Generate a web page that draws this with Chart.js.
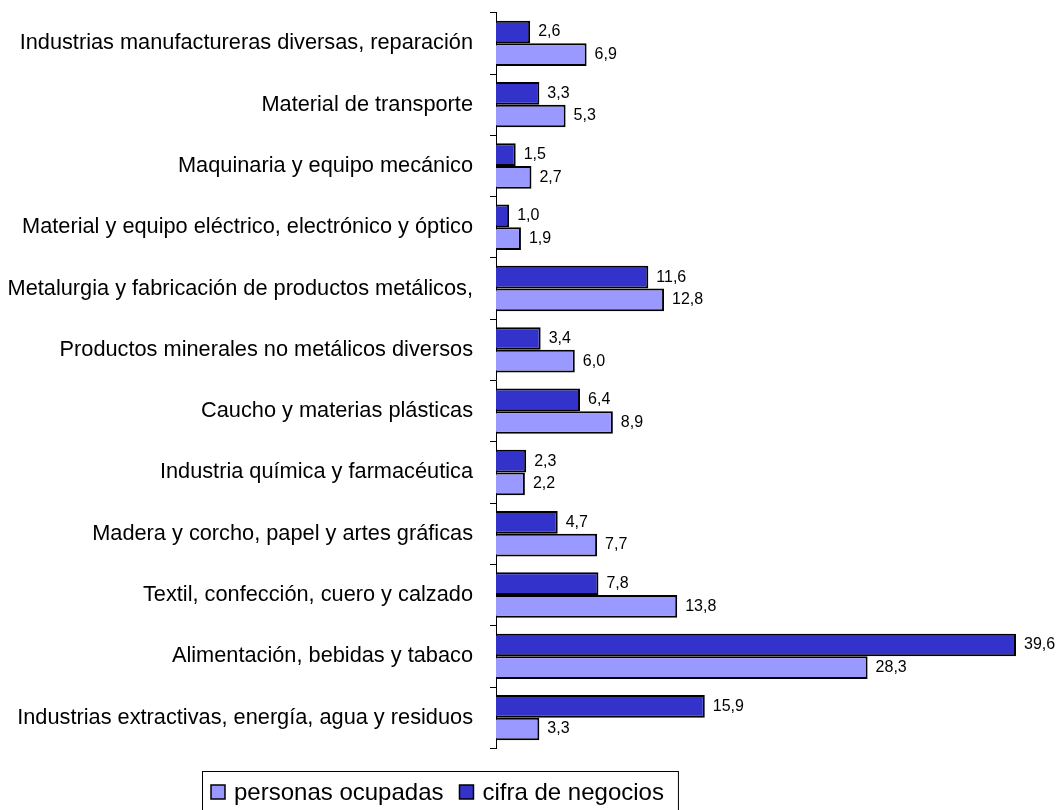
<!DOCTYPE html>
<html lang="es">
<head>
<meta charset="utf-8">
<title>Cifra de negocios y personas ocupadas por sector</title>
<script src="https://cdn.jsdelivr.net/npm/chart.js@4/dist/chart.umd.min.js"></script>
<style>
  html, body { margin: 0; padding: 0; background: #ffffff; }
  #wrap { position: relative; width: 1061px; height: 810px; }
</style>
</head>
<body>
<div id="wrap"><canvas id="sectorChart"></canvas></div>
<script>
const sectorLabels = [
  "Industrias manufactureras diversas, reparación",
  "Material de transporte",
  "Maquinaria y equipo mecánico",
  "Material y equipo eléctrico, electrónico y óptico",
  "Metalurgia y fabricación de productos metálicos,",
  "Productos minerales no metálicos diversos",
  "Caucho y materias plásticas",
  "Industria química y farmacéutica",
  "Madera y corcho, papel y artes gráficas",
  "Textil, confección, cuero y calzado",
  "Alimentación, bebidas y tabaco",
  "Industrias extractivas, energía, agua y residuos"
];

const cifraNegocios = [2.6, 3.3, 1.5, 1.0, 11.6, 3.4, 6.4, 2.3, 4.7, 7.8, 39.6, 15.9];
const personasOcupadas = [6.9, 5.3, 2.7, 1.9, 12.8, 6.0, 8.9, 2.2, 7.7, 13.8, 28.3, 3.3];

const seriesNames = ["cifra de negocios", "personas ocupadas"];
const legendOrder = ["personas ocupadas", "cifra de negocios"];

(function () {
  const canvas = document.getElementById("sectorChart");
  const fontFamily = "'Liberation Sans', Arial, Helvetica, sans-serif";
  const darkBlue = "#3333cc";
  const lightBlue = "#9999ff";

  function formatValue(value) {
    return value.toFixed(1).replace(".", ",");
  }

  // numbers at the end of each bar
  const valueLabels = {
    id: "valueLabels",
    afterDatasetsDraw: function (chart) {
      const ctx = chart.ctx;
      ctx.save();
      ctx.font = "16px " + fontFamily;
      ctx.fillStyle = "#000000";
      ctx.textAlign = "left";
      ctx.textBaseline = "middle";
      chart.data.datasets.forEach(function (dataset, di) {
        const meta = chart.getDatasetMeta(di);
        meta.data.forEach(function (bar, i) {
          ctx.fillText(formatValue(dataset.data[i]), bar.x + 8, bar.y);
        });
      });
      ctx.restore();
    }
  };

  // boxed legend under the plot, personas first
  const boxedLegend = {
    id: "boxedLegend",
    afterDraw: function (chart) {
      const ctx = chart.ctx;
      const boxLeft = 202;
      const boxTop = 771;
      const centerY = 792;
      ctx.save();
      ctx.font = "24px " + fontFamily;
      ctx.textBaseline = "middle";
      ctx.textAlign = "left";

      let x = 211;
      legendOrder.forEach(function (name, idx) {
        const ds = chart.data.datasets.find(function (d) { return d.label === name; });
        ctx.fillStyle = ds.backgroundColor;
        ctx.fillRect(x, centerY - 7, 14, 14);
        ctx.lineWidth = 1.5;
        ctx.strokeStyle = "#000000";
        ctx.strokeRect(x, centerY - 7, 14, 14);
        x += 14 + 9;
        ctx.fillStyle = "#000000";
        ctx.fillText(name, x, centerY + 1);
        x += ctx.measureText(name).width;
        if (idx < legendOrder.length - 1) {
          x += 16;
        }
      });

      ctx.lineWidth = 1;
      ctx.strokeStyle = "#000000";
      ctx.strokeRect(boxLeft + 0.5, boxTop + 0.5, x + 14 - boxLeft, 60);
      ctx.restore();
    }
  };

  new Chart(canvas.getContext("2d"), {
    type: "bar",
    data: {
      labels: sectorLabels,
      datasets: [
        {
          label: seriesNames[0],
          data: cifraNegocios,
          backgroundColor: darkBlue,
          borderColor: "#000000",
          borderWidth: 2,
          borderSkipped: "start",
          categoryPercentage: 0.74,
          barPercentage: 1.0
        },
        {
          label: seriesNames[1],
          data: personasOcupadas,
          backgroundColor: lightBlue,
          borderColor: "#000000",
          borderWidth: 2,
          borderSkipped: "start",
          categoryPercentage: 0.74,
          barPercentage: 1.0
        }
      ]
    },
    options: {
      indexAxis: "y",
      responsive: true,
      maintainAspectRatio: false,
      animation: false,
      layout: {
        padding: { left: 0, right: 13.5, top: 12.7, bottom: 61.7 }
      },
      plugins: {
        legend: { display: false },
        tooltip: { enabled: false }
      },
      scales: {
        x: {
          display: false,
          min: 0,
          max: 42
        },
        y: {
          afterFit: function (scale) {
            scale.width = 496;
            scale.paddingTop = 0;
            scale.paddingBottom = 0;
          },
          border: { display: true, color: "#000000", width: 1 },
          grid: {
            offset: true,
            drawOnChartArea: false,
            drawTicks: true,
            tickLength: 6,
            color: "#000000",
            lineWidth: 1
          },
          ticks: {
            color: "#000000",
            padding: 17,
            font: { family: fontFamily, size: 21.75 }
          }
        }
      }
    },
    plugins: [valueLabels, boxedLegend]
  });
})();
</script>
</body>
</html>
